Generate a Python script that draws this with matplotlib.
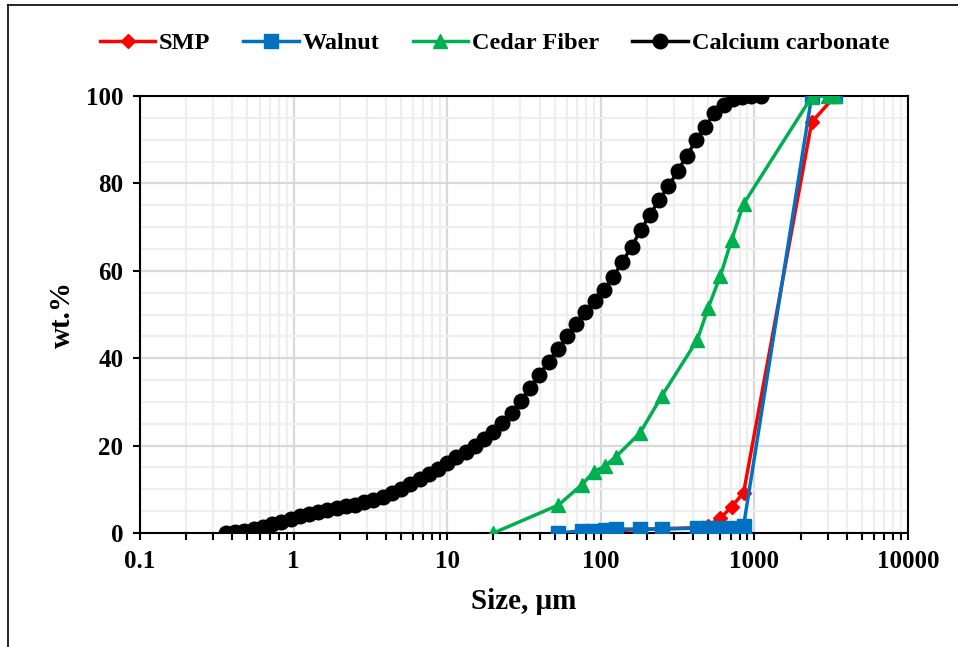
import numpy as np
import matplotlib.pyplot as plt
from matplotlib.lines import Line2D
from matplotlib.ticker import LogLocator, MultipleLocator

plt.rcParams['font.family'] = ['Liberation Serif', 'DejaVu Serif']
plt.rcParams['font.weight'] = 'bold'

# sieve sizes, um
sieve = [53, 75, 90, 106, 125, 180, 250, 425, 500, 600, 710, 850, 2360, 3350]
smp = [0.0, 0.0, 0.0, 0.3, 0.5, 0.8, 1.0, 1.2, 1.7, 3.4, 6.0, 9.2, 94.0, 100.0]
walnut = [0.0, 0.5, 0.5, 0.7, 0.9, 0.9, 0.9, 1.1, 1.1, 1.1, 1.1, 1.6, 100.0, 100.0]

cedar_size = [20, 53, 75, 90, 106, 125, 180, 250, 425, 500, 600, 710, 850, 2360, 3000, 3350]
cedar = [0.0, 6.4, 11.0, 14.0, 15.3, 17.4, 22.9, 31.4, 44.2, 51.5, 58.8, 67.0, 75.3, 99.8, 100.0, 100.0]

# laser diffraction bins, um
caco3_size = [0.363, 0.417, 0.479, 0.550, 0.631, 0.724, 0.832, 0.955, 1.096, 1.259,
              1.445, 1.660, 1.905, 2.188, 2.512, 2.884, 3.311, 3.802, 4.365, 5.012,
              5.754, 6.607, 7.586, 8.710, 10.0, 11.48, 13.18, 15.14, 17.38, 19.95,
              22.91, 26.30, 30.20, 34.67, 39.81, 45.71, 52.48, 60.26, 69.18, 79.43,
              91.20, 104.7, 120.2, 138.0, 158.5, 182.0, 208.9, 239.9, 275.4, 316.2,
              363.1, 416.9, 478.6, 549.5, 631.0, 724.4, 831.8, 955.0, 1096.5]
caco3 = [0.0, 0.2, 0.5, 0.9, 1.4, 2.0, 2.5, 3.2, 3.9, 4.4,
         4.9, 5.3, 5.7, 6.1, 6.5, 7.0, 7.6, 8.3, 9.1, 10.1,
         11.2, 12.3, 13.5, 14.7, 16.0, 17.3, 18.6, 20.0, 21.5, 23.2,
         25.1, 27.5, 30.3, 33.2, 36.2, 39.2, 42.1, 45.0, 47.8, 50.5,
         53.0, 55.6, 58.6, 62.0, 65.5, 69.3, 72.8, 76.2, 79.3, 82.8,
         86.3, 89.9, 93.0, 96.0, 98.0, 99.3, 99.8, 100.0, 100.0]

fig = plt.figure(figsize=(9.58, 6.47), dpi=100)
ax = fig.add_axes([140/958, 1-533/647, 768/958, 437/647])

ax.plot(sieve, smp, color='#FF0000', lw=2.5, marker='D', ms=7, label='SMP', zorder=3)
ax.plot(sieve, walnut, color='#0070C0', lw=2.5, marker='s', ms=9.5, label='Walnut', zorder=4)
ax.plot(cedar_size, cedar, color='#00B050', lw=2.5, marker='^', ms=10.5, label='Cedar Fiber', zorder=5)
ax.plot(caco3_size, caco3, color='black', lw=2.5, marker='o', ms=10.5, label='Calcium carbonate', zorder=6)

ax.set_xscale('log')
ax.set_xlim(0.1, 10000)
ax.set_ylim(0, 100)
ax.xaxis.set_minor_locator(LogLocator(base=10, subs=np.arange(2, 10), numticks=10))
ax.set_xticks([0.1, 1, 10, 100, 1000, 10000])
ax.set_xticklabels(['0.1', '1', '10', '100', '1000', '10000'])
ax.set_xticklabels([], minor=True)
ax.yaxis.set_major_locator(MultipleLocator(20))
ax.yaxis.set_minor_locator(MultipleLocator(5))

ax.grid(which='major', color='#d9d9d9', lw=1.6)
ax.grid(which='minor', color='#eeeeee', lw=1.6)
ax.set_axisbelow(True)

ax.tick_params(axis='both', which='major', direction='out', length=5, width=1.5,
               labelsize=18, pad=7, color='black')
ax.tick_params(axis='x', which='minor', direction='out', length=5, width=1.5)
ax.tick_params(axis='y', which='minor', length=0)
for s in ax.spines.values():
    s.set_linewidth(1.5)
    s.set_color('black')

ax.set_xlabel('Size, μm', fontsize=21, fontweight='bold', labelpad=11)
ax.set_ylabel('wt.%', fontsize=21, fontweight='bold', labelpad=7)

fig.legend(loc='center', bbox_to_anchor=(0.516, 1-43/647), ncol=4, frameon=False,
           handlelength=2.3, handletextpad=0.15, columnspacing=1.35,
           prop={'weight': 'bold', 'size': 17.5})

# outer frame of the picture
fig.add_artist(Line2D([8/958, 8/958], [0, 1-5/647], color='black', lw=1.2, transform=fig.transFigure))
fig.add_artist(Line2D([8/958, 1], [1-5/647, 1-5/647], color='black', lw=1.2, transform=fig.transFigure))

fig.savefig('out.png', dpi=100)
